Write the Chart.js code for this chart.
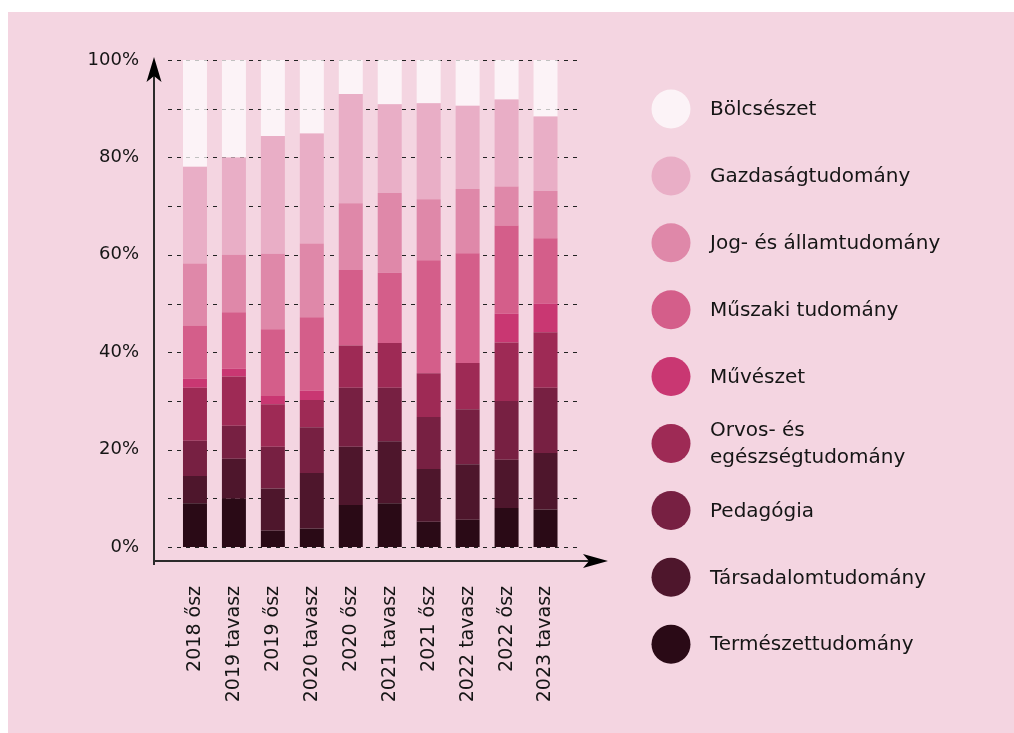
<!DOCTYPE html>
<html>
<head>
<meta charset="utf-8">
<script src="https://cdn.jsdelivr.net/npm/chart.js@4/dist/chart.umd.min.js"></script>
<style>
  html, body { margin: 0; padding: 0; background: #ffffff; }
  #bg { position: absolute; left: 8px; top: 12px; right: 0; bottom: 0; background: #f4d5e1; }
  #wrap { position: absolute; left: 0; top: 0; width: 1014px; height: 733px; }
</style>
</head>
<body>
<div id="bg"></div>
<div id="wrap"><canvas id="c" width="1014" height="733"></canvas></div>
<script>
const categories = ['2018 ősz','2019 tavasz','2019 ősz','2020 tavasz','2020 ősz','2021 tavasz','2021 ősz','2022 tavasz','2022 ősz','2023 tavasz'];

// stacked from bottom to top (percent)
const termeszettudomany  = [9.0, 9.9, 3.4, 3.8, 8.6, 9.0, 5.2, 5.6, 8.0, 7.7];
const tarsadalomtudomany = [5.6, 8.2, 8.6, 11.4, 12.0, 12.7, 10.8, 11.4, 9.9, 11.6];
const pedagogia          = [7.2, 6.8, 8.6, 9.4, 12.1, 11.0, 10.7, 11.3, 12.1, 13.4];
const orvos              = [10.9, 10.1, 8.7, 5.6, 8.7, 9.2, 9.0, 9.5, 12.0, 11.4];
const muveszet           = [1.9, 1.6, 1.7, 1.9, 0, 0, 0, 0, 5.9, 5.9];
const muszaki            = [10.9, 11.6, 13.7, 15.1, 15.5, 14.4, 23.2, 22.5, 18.1, 13.4];
const jog                = [12.7, 11.8, 15.5, 15.1, 13.7, 16.4, 12.5, 13.2, 8.0, 9.7];
const gazdasag           = [19.9, 20.0, 24.2, 22.6, 22.4, 18.2, 19.7, 17.1, 17.9, 15.3];
const bolcseszet         = [21.9, 20.0, 15.6, 15.1, 7.0, 9.1, 8.9, 9.4, 8.1, 11.6];

const seriesNames = ['Természettudomány','Társadalomtudomány','Pedagógia','Orvos- és\negészségtudomány','Művészet','Műszaki tudomány','Jog- és államtudomány','Gazdaságtudomány','Bölcsészet'];
const seriesValues = [termeszettudomany, tarsadalomtudomany, pedagogia, orvos, muveszet, muszaki, jog, gazdasag, bolcseszet];
const seriesColors = ['#2a0a16','#4e162c','#772042','#9e2a55','#c93772','#d45e8a','#df88a9','#e9aec6','rgba(255,255,255,0.72)'];
const yTicks = [0, 20, 40, 60, 80, 100];

const FONT = '"DejaVu Sans", sans-serif';
const TEXT = '#151515';

function arrowHead(ctx, tipX, tipY, dir) {
  ctx.beginPath();
  if (dir === 'up') {
    ctx.moveTo(tipX, tipY);
    ctx.lineTo(tipX + 7.5, tipY + 25);
    ctx.lineTo(tipX, tipY + 19);
    ctx.lineTo(tipX - 7.5, tipY + 25);
  } else {
    ctx.moveTo(tipX, tipY);
    ctx.lineTo(tipX - 25, tipY - 7);
    ctx.lineTo(tipX - 19, tipY);
    ctx.lineTo(tipX - 25, tipY + 7);
  }
  ctx.closePath();
  ctx.fill();
}

const decorPlugin = {
  id: 'decor',
  beforeDatasetsDraw(chart) {
    const ctx = chart.ctx, y = chart.scales.y, a = chart.chartArea;
    ctx.save();
    ctx.strokeStyle = '#222';
    ctx.lineWidth = 1;
    ctx.setLineDash([4, 5]);
    for (let v = 0; v <= 100; v += 10) {
      const py = Math.round(y.getPixelForValue(v)) + 0.5;
      ctx.beginPath();
      ctx.moveTo(a.left - 7.5, py);
      ctx.lineTo(a.right + 13, py);
      ctx.stroke();
    }
    ctx.restore();
  },
  afterDraw(chart) {
    const ctx = chart.ctx, a = chart.chartArea, y = chart.scales.y;
    ctx.save();
    const ax = a.left - 21.5;
    const ay = y.getPixelForValue(0) + 14;
    ctx.strokeStyle = '#2b2b2b';
    ctx.fillStyle = '#000';
    ctx.lineWidth = 2;
    ctx.beginPath();
    ctx.moveTo(ax, ay + 4);
    ctx.lineTo(ax, y.getPixelForValue(100) + 8);
    ctx.stroke();
    ctx.beginPath();
    ctx.moveTo(ax - 1, ay);
    ctx.lineTo(a.right + 30, ay);
    ctx.stroke();
    arrowHead(ctx, ax, y.getPixelForValue(100) - 3, 'up');
    arrowHead(ctx, a.right + 43, ay, 'right');

    // legend (top item = top of stack)
    const ds = chart.data.datasets;
    const cx = 671, startY = 109, step = 66.9, r = 19.5, tx = 710;
    ctx.font = '20px ' + FONT;
    ctx.textBaseline = 'middle';
    ctx.textAlign = 'left';
    for (let k = 0; k < ds.length; k++) {
      const d = ds[ds.length - 1 - k];
      const cy = startY + k * step;
      ctx.fillStyle = d.backgroundColor;
      ctx.beginPath();
      ctx.arc(cx, cy, r, 0, Math.PI * 2);
      ctx.fill();
      ctx.fillStyle = TEXT;
      const lines = d.label.split('\n');
      const lh = 27;
      lines.forEach((ln, i) => {
        ctx.fillText(ln, tx, cy + (i - (lines.length - 1) / 2) * lh + 1);
      });
    }
    ctx.restore();
  }
};

new Chart(document.getElementById('c'), {
  type: 'bar',
  data: {
    labels: categories,
    datasets: seriesValues.map((vals, i) => ({
      label: seriesNames[i],
      data: vals,
      backgroundColor: seriesColors[i],
      borderWidth: 0,
      barPercentage: 0.616,
      categoryPercentage: 1.0
    }))
  },
  options: {
    responsive: false,
    animation: false,
    devicePixelRatio: 1,
    layout: { padding: { left: 0, right: 449, top: 60, bottom: 0 } },
    plugins: { legend: { display: false }, tooltip: { enabled: false } },
    scales: {
      x: {
        stacked: true,
        grid: { display: false, drawTicks: false },
        border: { display: false },
        ticks: {
          autoSkip: false, minRotation: 90, maxRotation: 90, padding: 39,
          color: TEXT, font: { family: FONT, size: 19 }
        },
        afterFit(s) { s.height = 186; }
      },
      y: {
        stacked: true, min: 0, max: 100,
        grid: { display: false, drawTicks: false },
        border: { display: false },
        afterBuildTicks(s) { s.ticks = yTicks.map(v => ({ value: v })); },
        ticks: {
          padding: 36.5, color: TEXT, font: { family: FONT, size: 18 },
          callback: v => v + '%'
        },
        afterFit(s) { s.width = 175.5; }
      }
    }
  },
  plugins: [decorPlugin]
});
</script>
</body>
</html>
